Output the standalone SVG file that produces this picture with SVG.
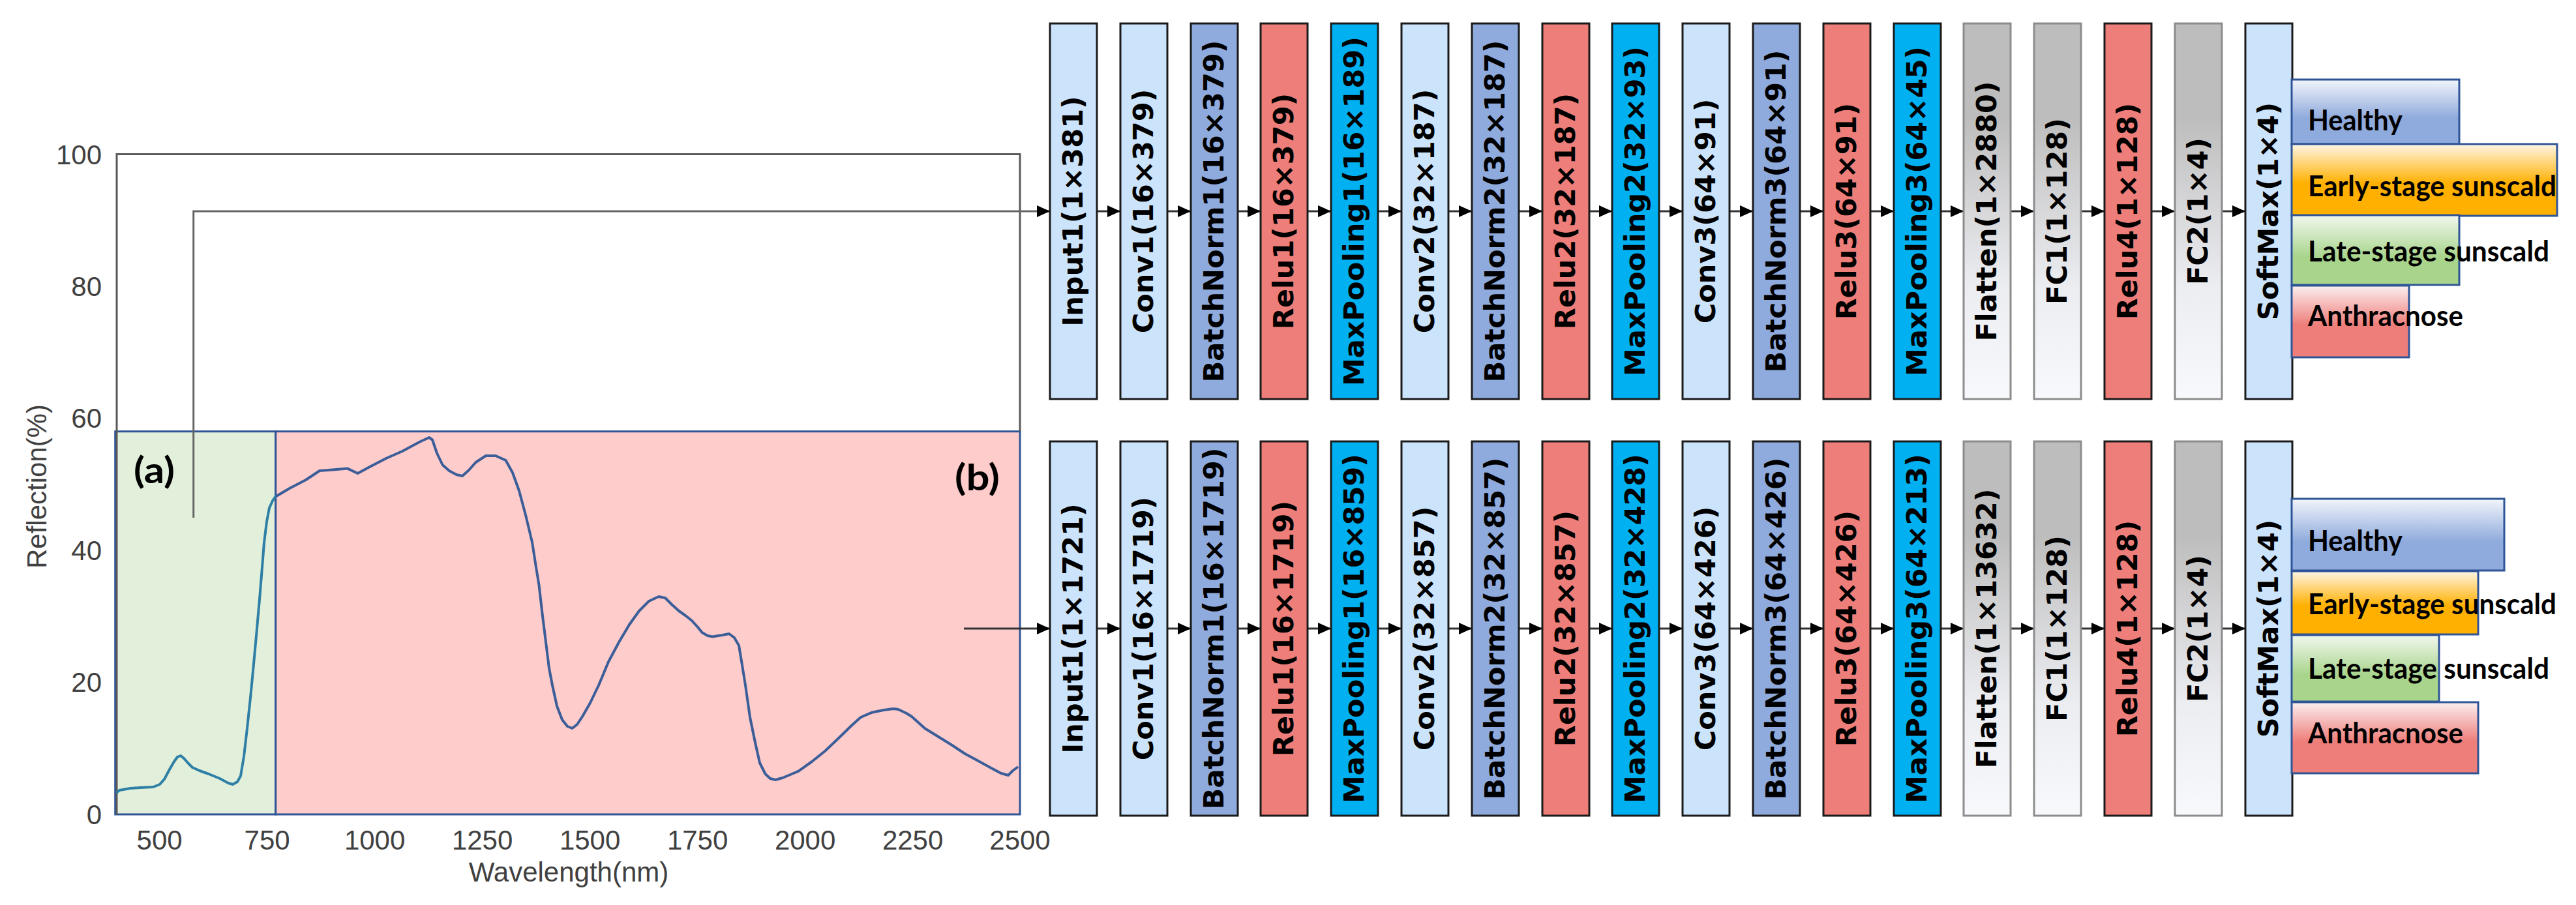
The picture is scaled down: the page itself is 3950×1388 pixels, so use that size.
<svg xmlns="http://www.w3.org/2000/svg" width="3950" height="1388" viewBox="0 0 3950 1388">
<style>
.lb{fill:#CCE4FB;stroke:#1a1a1a;stroke-width:3}
.bn{fill:#8FAADC;stroke:#1a1a1a;stroke-width:3}
.rl{fill:#EE7E7A;stroke:#1a1a1a;stroke-width:3}
.mp{fill:#00B0F0;stroke:#1a1a1a;stroke-width:3}
.gy{fill:url(#gGray);stroke:#8C8C8C;stroke-width:3}
.lt{font-family:'DejaVu Sans',Verdana,sans-serif;font-weight:bold;font-size:43px;fill:#000;text-anchor:middle}
.ob{stroke:#2F5597;stroke-width:3}
.ot{font-family:Lato,'Liberation Sans',sans-serif;font-weight:bold;font-size:44px;fill:#000}
.tk{font-family:'Liberation Sans',Arial,sans-serif;font-size:42px;fill:#404040}
.ar{stroke:#333;stroke-width:3;fill:none;marker-end:url(#ah)}
.cn{stroke:#666;stroke-width:3;fill:none}
</style>
<defs>
<marker id="ah" markerUnits="userSpaceOnUse" markerWidth="20" markerHeight="18" refX="20" refY="9" orient="auto" viewBox="0 0 20 18"><path d="M0,0 L20,9 L0,18 z" fill="#000"/></marker>
<linearGradient id="gGray" x1="0" y1="0" x2="0" y2="1"><stop offset="0" stop-color="#BDBDBD"/><stop offset="0.25" stop-color="#BDBDBD"/><stop offset="0.7" stop-color="#ECEDF1"/><stop offset="1" stop-color="#F7F9FC"/></linearGradient>
<linearGradient id="gH" x1="0" y1="0" x2="0" y2="1"><stop offset="0" stop-color="#F2F5FB"/><stop offset="0.6" stop-color="#8FAADC"/><stop offset="1" stop-color="#8FAADC"/></linearGradient>
<linearGradient id="gE" x1="0" y1="0" x2="0" y2="1"><stop offset="0" stop-color="#FFF6E6"/><stop offset="0.55" stop-color="#FFB000"/><stop offset="1" stop-color="#FFB000"/></linearGradient>
<linearGradient id="gL" x1="0" y1="0" x2="0" y2="1"><stop offset="0" stop-color="#F2F8EE"/><stop offset="0.6" stop-color="#A8D48C"/><stop offset="1" stop-color="#A8D48C"/></linearGradient>
<linearGradient id="gA" x1="0" y1="0" x2="0" y2="1"><stop offset="0" stop-color="#FBEFF0"/><stop offset="0.55" stop-color="#EE7E7A"/><stop offset="1" stop-color="#EE7E7A"/></linearGradient>
<clipPath id="cG"><rect x="176" y="660" width="247" height="590"/></clipPath>
<clipPath id="cP"><rect x="423" y="600" width="1141" height="650"/></clipPath>
</defs>
<rect width="3950" height="1388" fill="#fff"/>

<g id="chart">
<rect x="176.7" y="661.7" width="246" height="587.3" fill="#E2EFDA" stroke="#2F5597" stroke-width="3"/>
<rect x="422.7" y="661.7" width="1141.3" height="587.3" fill="#FFCCCC" stroke="#2F5597" stroke-width="3"/>
<path d="M179,1249 V236.4 H1564 V661.7" fill="none" stroke="#595959" stroke-width="3"/>
<g id="curve">
<polyline clip-path="url(#cG)" fill="none" stroke="#2E7FA6" stroke-width="4" stroke-linejoin="round" points="178.6,1216 183,1212 189,1211 200,1209 215,1208 235,1207 245,1203 252,1195 260,1180 267,1168 272,1161 277,1159 282,1163 288,1170 295,1177 306,1182 320,1187 337,1194 350,1201 357,1203 364,1199 369,1190 374,1160 379,1117 384,1070 388,1029 393,975 398,919 402,870 405,832 409,800 413,779 418,768 422,762 444,749"/>
<polyline clip-path="url(#cP)" fill="none" stroke="#3B5E98" stroke-width="4" stroke-linejoin="round" points="413,779 418,768 422,762 444,749 469,736 490,722 510,720.5 533,718.6 548.5,726 566,716.6 592,703 617,692 643,678 658,671 663,674.5 670,695 678.6,713 688.8,722 700,728 709,730 719,721 729.6,709 745,699 760,699 775.5,706 786,725 796,752.7 806,790 816,831.6 822,870 826.5,897.5 832,945 837,985 842,1025 847,1051 854,1083 862,1103.7 870,1114 877.5,1117 885,1111 893,1099 905,1078 918,1051 933,1015 949,985 965,958 980,937 995,922 1010,915 1020,917 1030,927 1041,937 1051,944 1061,952 1070,962 1076.5,970 1085,975 1092,976.4 1108,974 1118,972 1126,978 1133,990 1138,1020 1143,1051 1150,1100 1158,1139 1165,1170 1173.5,1187 1181,1194 1189,1196 1200,1193 1212,1188 1224.5,1182.7 1245,1168 1265,1152 1286,1132 1306,1112.5 1320,1100 1337,1092.7 1355,1089 1370,1087 1377.5,1088 1390,1094 1398,1099 1418,1117 1439,1130 1460,1143 1479.6,1156 1500,1167 1520,1178 1535,1186 1546,1189 1553,1182 1561,1176"/>
</g>
<g class="tk" text-anchor="end">
<text x="156" y="251.5">100</text>
<text x="156" y="454">80</text>
<text x="156" y="656">60</text>
<text x="156" y="859">40</text>
<text x="156" y="1061">20</text>
<text x="156" y="1264">0</text>
</g>
<g class="tk" text-anchor="middle">
<text x="244.6" y="1303">500</text>
<text x="409.6" y="1303">750</text>
<text x="574.6" y="1303">1000</text>
<text x="739.6" y="1303">1250</text>
<text x="904.6" y="1303">1500</text>
<text x="1069.6" y="1303">1750</text>
<text x="1234.6" y="1303">2000</text>
<text x="1399.6" y="1303">2250</text>
<text x="1564" y="1303">2500</text>
<text x="872" y="1352">Wavelength(nm)</text>
<text transform="translate(71,746) rotate(-90)">Reflection(%)</text>
</g>
<text x="205" y="741" font-family="Lato,'Liberation Sans',sans-serif" font-weight="bold" font-size="56" textLength="63" lengthAdjust="spacingAndGlyphs">(a)</text>
<text x="1464" y="752" font-family="Lato,'Liberation Sans',sans-serif" font-weight="bold" font-size="56" textLength="69" lengthAdjust="spacingAndGlyphs">(b)</text>
</g>

<g id="connectors">
<path class="cn" d="M296.7,794 V324 H1600"/>
<path class="ar" d="M1590,324 H1610"/>
<path class="ar" d="M1478,964 H1610"/>
<path class="ar" d="M1682,324 H1718"/><path class="ar" d="M1790,324 H1826"/><path class="ar" d="M1898,324 H1933"/><path class="ar" d="M2005,324 H2041"/><path class="ar" d="M2113,324 H2149"/><path class="ar" d="M2221,324 H2257"/><path class="ar" d="M2329,324 H2365"/><path class="ar" d="M2437,324 H2472"/><path class="ar" d="M2544,324 H2580"/><path class="ar" d="M2652,324 H2688"/><path class="ar" d="M2760,324 H2796"/><path class="ar" d="M2868,324 H2904"/><path class="ar" d="M2976,324 H3011"/><path class="ar" d="M3083,324 H3119"/><path class="ar" d="M3191,324 H3227"/><path class="ar" d="M3299,324 H3335"/><path class="ar" d="M3407,324 H3443"/>
<path class="ar" d="M1682,964 H1718"/><path class="ar" d="M1790,964 H1826"/><path class="ar" d="M1898,964 H1933"/><path class="ar" d="M2005,964 H2041"/><path class="ar" d="M2113,964 H2149"/><path class="ar" d="M2221,964 H2257"/><path class="ar" d="M2329,964 H2365"/><path class="ar" d="M2437,964 H2472"/><path class="ar" d="M2544,964 H2580"/><path class="ar" d="M2652,964 H2688"/><path class="ar" d="M2760,964 H2796"/><path class="ar" d="M2868,964 H2904"/><path class="ar" d="M2976,964 H3011"/><path class="ar" d="M3083,964 H3119"/><path class="ar" d="M3191,964 H3227"/><path class="ar" d="M3299,964 H3335"/><path class="ar" d="M3407,964 H3443"/>
</g>

<g id="top-net">
<g id="t-input1"><rect class="lb" x="1610" y="36" width="72" height="576"/><text class="lt" transform="translate(1660,324) rotate(-90)">Input1(1×381)</text></g>
<g id="t-conv1"><rect class="lb" x="1718" y="36" width="72" height="576"/><text class="lt" transform="translate(1768,324) rotate(-90)">Conv1(16×379)</text></g>
<g id="t-bn1"><rect class="bn" x="1826" y="36" width="72" height="576"/><text class="lt" transform="translate(1876,324) rotate(-90)">BatchNorm1(16×379)</text></g>
<g id="t-relu1"><rect class="rl" x="1933" y="36" width="72" height="576"/><text class="lt" transform="translate(1983,324) rotate(-90)">Relu1(16×379)</text></g>
<g id="t-mp1"><rect class="mp" x="2041" y="36" width="72" height="576"/><text class="lt" transform="translate(2091,324) rotate(-90)">MaxPooling1(16×189)</text></g>
<g id="t-conv2"><rect class="lb" x="2149" y="36" width="72" height="576"/><text class="lt" transform="translate(2199,324) rotate(-90)">Conv2(32×187)</text></g>
<g id="t-bn2"><rect class="bn" x="2257" y="36" width="72" height="576"/><text class="lt" transform="translate(2307,324) rotate(-90)">BatchNorm2(32×187)</text></g>
<g id="t-relu2"><rect class="rl" x="2365" y="36" width="72" height="576"/><text class="lt" transform="translate(2415,324) rotate(-90)">Relu2(32×187)</text></g>
<g id="t-mp2"><rect class="mp" x="2472" y="36" width="72" height="576"/><text class="lt" transform="translate(2522,324) rotate(-90)">MaxPooling2(32×93)</text></g>
<g id="t-conv3"><rect class="lb" x="2580" y="36" width="72" height="576"/><text class="lt" transform="translate(2630,324) rotate(-90)">Conv3(64×91)</text></g>
<g id="t-bn3"><rect class="bn" x="2688" y="36" width="72" height="576"/><text class="lt" transform="translate(2738,324) rotate(-90)">BatchNorm3(64×91)</text></g>
<g id="t-relu3"><rect class="rl" x="2796" y="36" width="72" height="576"/><text class="lt" transform="translate(2846,324) rotate(-90)">Relu3(64×91)</text></g>
<g id="t-mp3"><rect class="mp" x="2904" y="36" width="72" height="576"/><text class="lt" transform="translate(2954,324) rotate(-90)">MaxPooling3(64×45)</text></g>
<g id="t-flatten"><rect class="gy" x="3011" y="36" width="72" height="576"/><text class="lt" transform="translate(3061,324) rotate(-90)">Flatten(1×2880)</text></g>
<g id="t-fc1"><rect class="gy" x="3119" y="36" width="72" height="576"/><text class="lt" transform="translate(3169,324) rotate(-90)">FC1(1×128)</text></g>
<g id="t-relu4"><rect class="rl" x="3227" y="36" width="72" height="576"/><text class="lt" transform="translate(3277,324) rotate(-90)">Relu4(1×128)</text></g>
<g id="t-fc2"><rect class="gy" x="3335" y="36" width="72" height="576"/><text class="lt" transform="translate(3385,324) rotate(-90)">FC2(1×4)</text></g>
<g id="t-softmax"><rect class="lb" x="3443" y="36" width="72" height="576"/><text class="lt" transform="translate(3493,324) rotate(-90)">SoftMax(1×4)</text></g>
<g id="t-healthy"><rect class="ob" fill="url(#gH)" x="3514" y="122" width="257" height="99"/><text class="ot" x="3539" y="200" textLength="145" lengthAdjust="spacingAndGlyphs">Healthy</text></g>
<g id="t-early"><rect class="ob" fill="url(#gE)" x="3514" y="221" width="407" height="110"/><text class="ot" x="3539" y="301" textLength="381" lengthAdjust="spacingAndGlyphs">Early-stage sunscald</text></g>
<g id="t-late"><rect class="ob" fill="url(#gL)" x="3514" y="330" width="257" height="107"/><text class="ot" x="3539" y="401" textLength="370" lengthAdjust="spacingAndGlyphs">Late-stage sunscald</text></g>
<g id="t-anth"><rect class="ob" fill="url(#gA)" x="3514" y="438" width="180" height="110"/><text class="ot" x="3539" y="500" textLength="238" lengthAdjust="spacingAndGlyphs">Anthracnose</text></g>
</g>

<g id="bottom-net">
<g id="b-input1"><rect class="lb" x="1610" y="677" width="72" height="574"/><text class="lt" transform="translate(1660,964) rotate(-90)">Input1(1×1721)</text></g>
<g id="b-conv1"><rect class="lb" x="1718" y="677" width="72" height="574"/><text class="lt" transform="translate(1768,964) rotate(-90)">Conv1(16×1719)</text></g>
<g id="b-bn1"><rect class="bn" x="1826" y="677" width="72" height="574"/><text class="lt" transform="translate(1876,964) rotate(-90)">BatchNorm1(16×1719)</text></g>
<g id="b-relu1"><rect class="rl" x="1933" y="677" width="72" height="574"/><text class="lt" transform="translate(1983,964) rotate(-90)">Relu1(16×1719)</text></g>
<g id="b-mp1"><rect class="mp" x="2041" y="677" width="72" height="574"/><text class="lt" transform="translate(2091,964) rotate(-90)">MaxPooling1(16×859)</text></g>
<g id="b-conv2"><rect class="lb" x="2149" y="677" width="72" height="574"/><text class="lt" transform="translate(2199,964) rotate(-90)">Conv2(32×857)</text></g>
<g id="b-bn2"><rect class="bn" x="2257" y="677" width="72" height="574"/><text class="lt" transform="translate(2307,964) rotate(-90)">BatchNorm2(32×857)</text></g>
<g id="b-relu2"><rect class="rl" x="2365" y="677" width="72" height="574"/><text class="lt" transform="translate(2415,964) rotate(-90)">Relu2(32×857)</text></g>
<g id="b-mp2"><rect class="mp" x="2472" y="677" width="72" height="574"/><text class="lt" transform="translate(2522,964) rotate(-90)">MaxPooling2(32×428)</text></g>
<g id="b-conv3"><rect class="lb" x="2580" y="677" width="72" height="574"/><text class="lt" transform="translate(2630,964) rotate(-90)">Conv3(64×426)</text></g>
<g id="b-bn3"><rect class="bn" x="2688" y="677" width="72" height="574"/><text class="lt" transform="translate(2738,964) rotate(-90)">BatchNorm3(64×426)</text></g>
<g id="b-relu3"><rect class="rl" x="2796" y="677" width="72" height="574"/><text class="lt" transform="translate(2846,964) rotate(-90)">Relu3(64×426)</text></g>
<g id="b-mp3"><rect class="mp" x="2904" y="677" width="72" height="574"/><text class="lt" transform="translate(2954,964) rotate(-90)">MaxPooling3(64×213)</text></g>
<g id="b-flatten"><rect class="gy" x="3011" y="677" width="72" height="574"/><text class="lt" transform="translate(3061,964) rotate(-90)">Flatten(1×13632)</text></g>
<g id="b-fc1"><rect class="gy" x="3119" y="677" width="72" height="574"/><text class="lt" transform="translate(3169,964) rotate(-90)">FC1(1×128)</text></g>
<g id="b-relu4"><rect class="rl" x="3227" y="677" width="72" height="574"/><text class="lt" transform="translate(3277,964) rotate(-90)">Relu4(1×128)</text></g>
<g id="b-fc2"><rect class="gy" x="3335" y="677" width="72" height="574"/><text class="lt" transform="translate(3385,964) rotate(-90)">FC2(1×4)</text></g>
<g id="b-softmax"><rect class="lb" x="3443" y="677" width="72" height="574"/><text class="lt" transform="translate(3493,964) rotate(-90)">SoftMax(1×4)</text></g>
<g id="b-healthy"><rect class="ob" fill="url(#gH)" x="3514" y="765" width="326" height="110"/><text class="ot" x="3539" y="845" textLength="145" lengthAdjust="spacingAndGlyphs">Healthy</text></g>
<g id="b-early"><rect class="ob" fill="url(#gE)" x="3514" y="876" width="286" height="97"/><text class="ot" x="3539" y="942" textLength="381" lengthAdjust="spacingAndGlyphs">Early-stage sunscald</text></g>
<g id="b-late"><rect class="ob" fill="url(#gL)" x="3514" y="974" width="226" height="102"/><text class="ot" x="3539" y="1041" textLength="370" lengthAdjust="spacingAndGlyphs">Late-stage sunscald</text></g>
<g id="b-anth"><rect class="ob" fill="url(#gA)" x="3514" y="1077" width="286" height="109"/><text class="ot" x="3539" y="1140" textLength="238" lengthAdjust="spacingAndGlyphs">Anthracnose</text></g>
</g>
</svg>
